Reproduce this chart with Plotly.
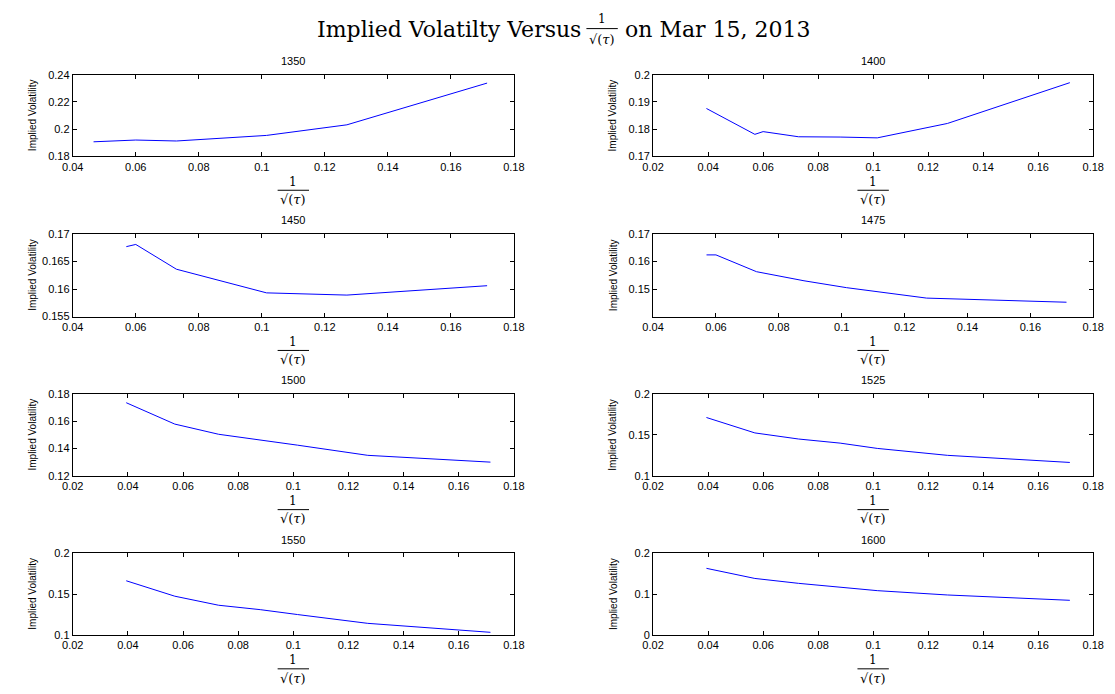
import plotly.graph_objects as go

W, H = 1115, 694

strikes = ["1350", "1400", "1450", "1475", "1500", "1525", "1550", "1600"]

x_1350 = [0.0466, 0.057, 0.060, 0.0729, 0.088, 0.1015, 0.127, 0.1715]
y_1350 = [0.1907, 0.1918, 0.1920, 0.1913, 0.1935, 0.1954, 0.2032, 0.2339]

x_1400 = [0.0394, 0.057, 0.060, 0.0729, 0.088, 0.1015, 0.127, 0.1715]
y_1400 = [0.1876, 0.1781, 0.1791, 0.1772, 0.1771, 0.1768, 0.1821, 0.1971]

x_1450 = [0.057, 0.060, 0.0729, 0.088, 0.1015, 0.127, 0.1715]
y_1450 = [0.1677, 0.1681, 0.1636, 0.1614, 0.1593, 0.1589, 0.1606]

x_1475 = [0.057, 0.060, 0.0729, 0.088, 0.1015, 0.127, 0.1715]
y_1475 = [0.1624, 0.1624, 0.1563, 0.1530, 0.1505, 0.1467, 0.1452]

x_1500 = [0.0394, 0.057, 0.0729, 0.088, 0.1015, 0.127, 0.1715]
y_1500 = [0.1737, 0.1580, 0.1505, 0.1465, 0.1425, 0.1350, 0.1300]

x_1525 = [0.0394, 0.057, 0.0729, 0.088, 0.1015, 0.127, 0.1715]
y_1525 = [0.1714, 0.1525, 0.1450, 0.1400, 0.1335, 0.1250, 0.1163]

x_1550 = [0.0394, 0.057, 0.0729, 0.088, 0.1015, 0.127, 0.1715]
y_1550 = [0.1664, 0.1475, 0.1364, 0.1310, 0.1250, 0.1142, 0.1032]

x_1600 = [0.0394, 0.057, 0.0729, 0.088, 0.1015, 0.127, 0.1715]
y_1600 = [0.1633, 0.1385, 0.1265, 0.1170, 0.1086, 0.0980, 0.0849]

xs = [x_1350, x_1400, x_1450, x_1475, x_1500, x_1525, x_1550, x_1600]
ys = [y_1350, y_1400, y_1450, y_1475, y_1500, y_1525, y_1550, y_1600]

x_ranges = [[0.04, 0.18], [0.02, 0.18], [0.04, 0.18], [0.04, 0.18],
            [0.02, 0.18], [0.02, 0.18], [0.02, 0.18], [0.02, 0.18]]
y_ranges = [[0.18, 0.24], [0.17, 0.2], [0.155, 0.17], [0.14, 0.17],
            [0.12, 0.18], [0.1, 0.2], [0.1, 0.2], [0.0, 0.2]]
y_ticks = [[0.18, 0.2, 0.22, 0.24], [0.17, 0.18, 0.19, 0.2],
           [0.155, 0.16, 0.165, 0.17], [0.15, 0.16, 0.17],
           [0.12, 0.14, 0.16, 0.18], [0.1, 0.15, 0.2], [0.1, 0.15, 0.2],
           [0, 0.1, 0.2]]
x_ticks = [0.02, 0.04, 0.06, 0.08, 0.1, 0.12, 0.14, 0.16, 0.18]

# layout in pixels
col_px = [(63, 513), (655, 1104)]
row_px = [(70, 153), (232, 316), (395, 478), (557, 640)]


def px(x):
    return x / W


def py(y):
    return 1 - y / H


SANS = "Liberation Sans, Arial, sans-serif"
SERIF = "DejaVu Serif, serif"

fig = go.Figure()
annotations = []
shapes = []

for i, name in enumerate(strikes):
    r, c = divmod(i, 2)
    x0, x1 = col_px[c]
    y0, y1 = row_px[r]
    n = i + 1
    xa = "xaxis" if n == 1 else f"xaxis{n}"
    ya = "yaxis" if n == 1 else f"yaxis{n}"
    xr = "x" if n == 1 else f"x{n}"
    yr = "y" if n == 1 else f"y{n}"
    fig.add_trace(go.Scatter(x=xs[i], y=ys[i], mode="lines",
                             line=dict(color="#0000ff", width=1),
                             xaxis=xr, yaxis=yr, hoverinfo="skip",
                             showlegend=False))
    common = dict(showline=True, linecolor="black", linewidth=1, mirror="ticks",
                  ticks="inside", ticklen=4, tickcolor="black", showgrid=False,
                  zeroline=False, tickfont=dict(family=SANS, size=11, color="black"))
    fig.layout[xa] = dict(domain=[px(x0), px(x1)], anchor=yr, range=x_ranges[i],
                          tickvals=[t for t in x_ticks if x_ranges[i][0] - 1e-9 <= t <= x_ranges[i][1] + 1e-9],
                          **common)
    fig.layout[ya] = dict(domain=[py(y1), py(y0)], anchor=xr, range=y_ranges[i],
                          tickvals=y_ticks[i], **common)
    cx = (x0 + x1) / 2
    # subplot title
    annotations.append(dict(x=px(cx), y=py(y0 - 14), xref="paper", yref="paper",
                            text=name, showarrow=False, xanchor="center", yanchor="middle",
                            font=dict(family=SANS, size=11, color="black")))
    # y-axis title
    annotations.append(dict(x=px(x0 - 41), y=py((y0 + y1) / 2), xref="paper", yref="paper",
                            text="Implied Volatility", showarrow=False, textangle=-90,
                            xanchor="center", yanchor="middle",
                            font=dict(family=SANS, size=10, color="black")))
    # x-axis title as fraction 1 / sqrt(tau)
    annotations.append(dict(x=px(cx), y=py(y1 + 26), xref="paper", yref="paper",
                            text="1", showarrow=False, xanchor="center", yanchor="middle",
                            font=dict(family=SERIF, size=12, color="black")))
    shapes.append(dict(type="line", xref="paper", yref="paper",
                       x0=px(cx - 16), x1=px(cx + 16), y0=py(y1 + 34.5), y1=py(y1 + 34.5),
                       line=dict(color="black", width=1)))
    annotations.append(dict(x=px(cx), y=py(y1 + 44), xref="paper", yref="paper",
                            text="√(<i>τ</i>)", showarrow=False, xanchor="center", yanchor="middle",
                            font=dict(family=SERIF, size=13, color="black")))

# main title
annotations.append(dict(x=px(584), y=py(24), xref="paper", yref="paper",
                        text="Implied Volatilty Versus", showarrow=False,
                        xanchor="right", yanchor="middle",
                        font=dict(family=SERIF, size=22, color="black")))
annotations.append(dict(x=px(603), y=py(13), xref="paper", yref="paper",
                        text="1", showarrow=False, xanchor="center", yanchor="middle",
                        font=dict(family=SERIF, size=12, color="black")))
shapes.append(dict(type="line", xref="paper", yref="paper",
                   x0=px(587), x1=px(619), y0=py(23), y1=py(23),
                   line=dict(color="black", width=1)))
annotations.append(dict(x=px(603), y=py(34), xref="paper", yref="paper",
                        text="√(<i>τ</i>)", showarrow=False, xanchor="center", yanchor="middle",
                        font=dict(family=SERIF, size=13, color="black")))
annotations.append(dict(x=px(624), y=py(24), xref="paper", yref="paper",
                        text="on Mar 15, 2013", showarrow=False,
                        xanchor="left", yanchor="middle",
                        font=dict(family=SERIF, size=22, color="black")))

fig.update_layout(width=W, height=H, margin=dict(l=0, r=0, t=0, b=0),
                  paper_bgcolor="white", plot_bgcolor="white",
                  annotations=annotations, shapes=shapes, showlegend=False)

fig.write_html("out.html", config={"displayModeBar": False},
               post_script="document.body.style.margin='0';"
                           "document.body.style.overflow='hidden';")
